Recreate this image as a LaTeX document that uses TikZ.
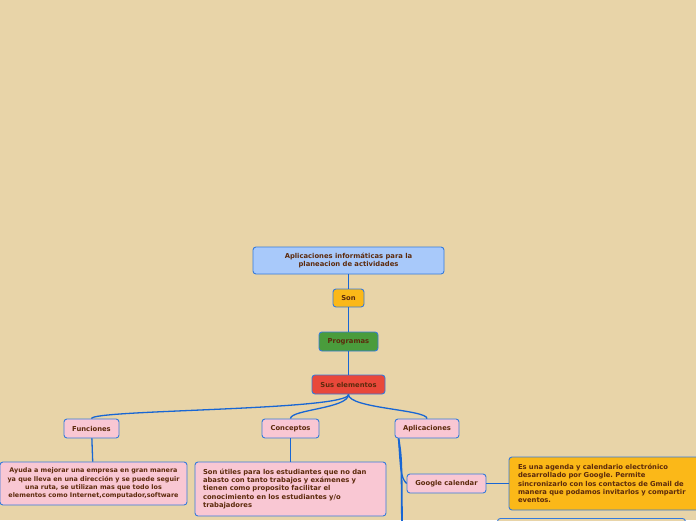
\documentclass[tikz,border=0pt]{standalone}
\usepackage{fontspec}
\setmainfont{DejaVu Sans}
\usepackage{tikz}
\usetikzlibrary{positioning}
\frenchspacing
\definecolor{fondo}{RGB}{232,212,168}
\definecolor{borde}{RGB}{52,122,220}
\definecolor{linea}{RGB}{24,102,212}
\definecolor{texto}{RGB}{92,42,12}
\definecolor{azulclaro}{RGB}{168,201,250}
\definecolor{naranja}{RGB}{251,184,24}
\definecolor{verde}{RGB}{74,156,60}
\definecolor{rojo}{RGB}{233,72,58}
\definecolor{rosa}{RGB}{249,199,211}
\tikzset{
  mapbox/.style={draw=borde, line width=0.9pt, rounded corners=3pt, align=center,
    font=\fontsize{6.8}{8.2}\selectfont\bfseries, text=texto, inner sep=2pt},
  maprama/.style={mapbox, fill=rosa, minimum height=19pt},
  mapnota/.style={mapbox, align=left, inner sep=0pt},
  mapline/.style={draw=linea, line width=1.3pt},
}

\begin{document}
\begin{tikzpicture}[x=1pt, y=-1pt]
  \useasboundingbox (0,0) rectangle (696,520);
  \fill[fondo] (0,0) rectangle (696,520);
  \clip (0,0) rectangle (696,520);
  % tronco
  \node[mapbox, fill=azulclaro, minimum width=191pt, minimum height=27pt] (raiz) at (348.5,260.5)
    {Aplicaciones informáticas para la\\planeacion de actividades};
  \node[mapbox, fill=naranja, minimum width=31pt, minimum height=18pt] (son) at (348.5,298) {Son};
  \node[mapbox, fill=verde, minimum width=59pt, minimum height=19pt] (programas) at (348.5,341.5) {Programas};
  \node[mapbox, fill=rojo, minimum width=73pt, minimum height=19pt] (sus) at (348.5,384.5) {Sus elementos};
  % ramas
  \node[maprama, minimum width=55pt] (funciones) at (91.5,428.5) {Funciones};
  \node[maprama, minimum width=57pt] (conceptos) at (290.5,428.5) {Conceptos};
  \node[maprama, minimum width=64pt] (aplicaciones) at (427,428.5) {Aplicaciones};
  % notas
  \node[mapbox, fill=rosa, minimum width=187pt, minimum height=43pt, inner xsep=0pt,
    font=\fontsize{6.4}{8.2}\selectfont\bfseries] (funtexto) at (93.5,483.5)
    {Ayuda a mejorar una empresa en gran manera\\ya que lleva en una dirección y se puede seguir\\una ruta, se utilizan mas que todo los\\elementos como Internet,computador,software};
  \node[mapnota, fill=rosa, text width=175pt, minimum height=54pt, inner xsep=8pt] (contexto) at (290.5,489)
    {Son útiles para los estudiantes que no dan\\abasto con tanto trabajos y exámenes y\\tienen como proposito facilitar el\\conocimiento en los estudiantes y/o\\trabajadores};
  \node[maprama, minimum width=79pt] (google) at (446.5,483.5) {Google calendar};
  \node[mapnota, fill=naranja, text width=172pt, minimum height=53pt, inner xsep=9pt] (googletexto) at (604,483.5)
    {Es una agenda y calendario electrónico\\desarrollado por Google. Permite\\sincronizarlo con los contactos de Gmail de\\manera que podamos invitarlos y compartir\\eventos.};
  \node[mapbox, fill=fondo, minimum width=188pt, minimum height=40pt, anchor=north west] (otrotexto) at (497,518) {};
  \coordinate (abajo) at (402,530);
  % conectores
  \draw[mapline] (raiz) -- (son);
  \draw[mapline] (son) -- (programas);
  \draw[mapline] (programas) -- (sus);
  \draw[mapline] (sus.south) .. controls +(0,16) and +(0,-9) .. (funciones.north);
  \draw[mapline] (sus.south) .. controls +(0,14) and +(0,-9) .. (conceptos.north);
  \draw[mapline] (sus.south) .. controls +(0,14) and +(0,-9) .. (aplicaciones.north);
  \draw[mapline] (funciones) -- (funtexto);
  \draw[mapline] (conceptos) -- (contexto);
  \draw[mapline] ([xshift=4pt]aplicaciones.south west) .. controls +(2,30) and +(-6,-6) .. (google.west);
  \draw[mapline, line width=1.8pt] ([xshift=4pt]aplicaciones.south west) .. controls +(3,20) .. (abajo);
  \draw[mapline] (google) -- (googletexto);
\end{tikzpicture}
\end{document}
